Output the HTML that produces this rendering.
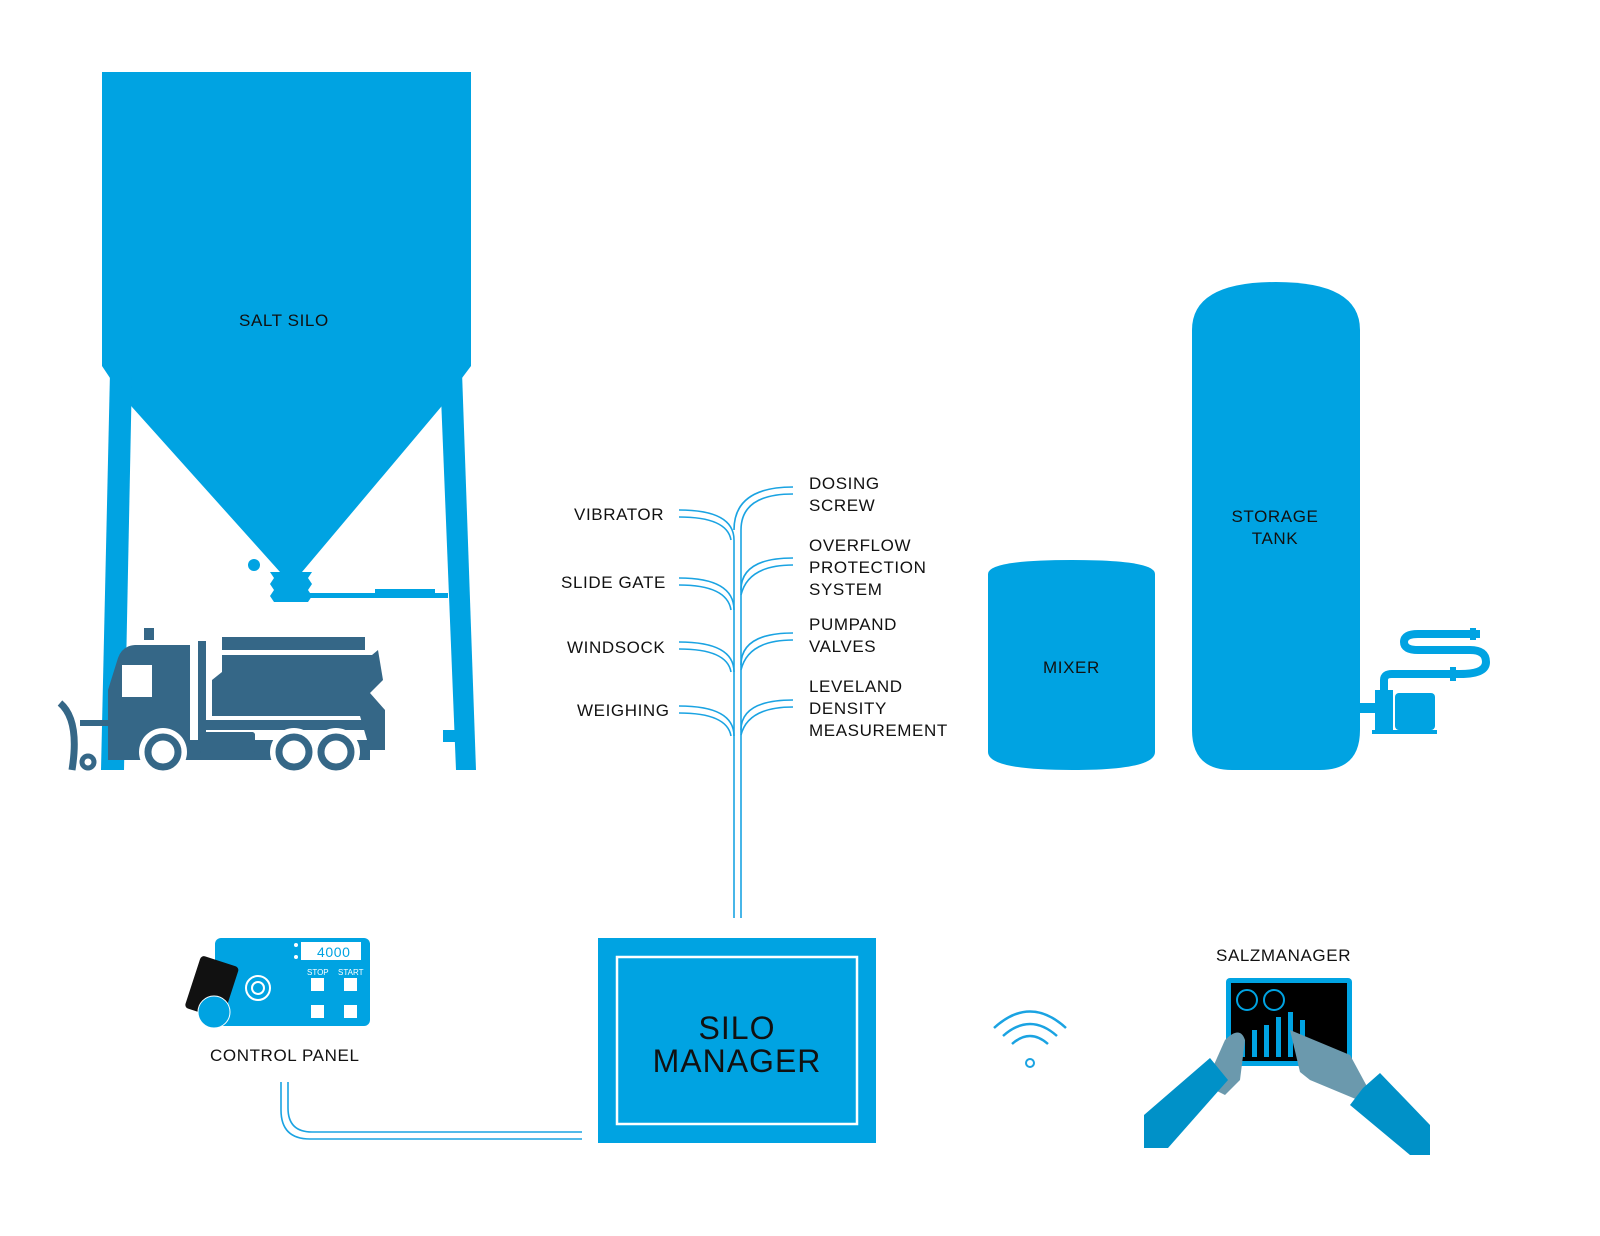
<!DOCTYPE html>
<html><head><meta charset="utf-8"><style>
html,body{margin:0;padding:0;background:#fff;}
svg{display:block}
text{font-family:"Liberation Sans",sans-serif;fill:#111;letter-spacing:0.6px}
</style></head><body>
<svg width="1600" height="1236" viewBox="0 0 1600 1236" xmlns="http://www.w3.org/2000/svg">
<g fill="#00a3e2">
<polygon points="102,72 471,72 471,366 462,378 441,407 302,572 280,572 132,407 110,378 102,366"/>
<polygon points="110,372 132,372 124,770 101,770"/>
<polygon points="440,372 462,372 476,770 456,770"/>
<rect x="443" y="730" width="12" height="12"/>
<path d="M272,572 h40 l-4,6 4,6 -4,6 4,6 -4,6 h-34 l-4,-6 4,-6 -4,-6 4,-6 -4,-6z"/>
<rect x="310" y="593" width="138" height="5"/>
<rect x="375" y="589" width="60" height="5"/>
<circle cx="254" cy="565" r="6"/>
<path d="M988,574 Q988,560 1072,560 Q1155,560 1155,574 V752 Q1155,770 1072,770 Q988,770 988,752Z"/>
<path d="M1192,330 Q1192,282 1276,282 Q1360,282 1360,330 V730 Q1360,770 1320,770 H1232 Q1192,770 1192,730Z"/>
<rect x="1360" y="703" width="15" height="10"/>
<rect x="1375" y="690" width="18" height="40"/>
<rect x="1395" y="693" width="40" height="37" rx="4"/>
<rect x="1372" y="730" width="65" height="4"/>
<path d="M1384,690 V680 Q1384,674 1392,674 H1460 Q1486,674 1486,662 Q1486,650 1470,650 H1418 Q1404,650 1404,642 Q1404,634 1418,634 H1480" fill="none" stroke="#00a3e2" stroke-width="8"/>
<rect x="1470" y="628" width="6" height="12"/><rect x="1450" y="667" width="6" height="14"/>
<rect x="215" y="938" width="155" height="88" rx="6"/>
<rect x="598" y="938" width="278" height="205"/>
</g>
<!-- truck -->
<g fill="#356787">
<path d="M118,658 Q122,646 135,645 H190 V760 H108 V690 Z"/>
<rect x="198" y="641" width="8" height="117"/>
<rect x="222" y="637" width="143" height="13"/>
<polygon points="222,655 372,655 378,650 383,680 370,693 385,710 385,750 370,750 360,716 212,716 212,680 222,672"/>
<rect x="205" y="720" width="160" height="10"/>
<rect x="200" y="732" width="55" height="22" rx="3"/>
<rect x="144" y="628" width="10" height="12"/>
<rect x="190" y="740" width="180" height="20"/>
</g>
<g fill="#fff"><circle cx="163" cy="752" r="24"/><circle cx="294" cy="752" r="24"/><circle cx="336" cy="752" r="24"/></g>
<rect x="200" y="732" width="55" height="22" rx="3" fill="#356787"/>
<rect x="122" y="665" width="30" height="32" fill="#fff"/>
<g fill="none" stroke="#356787" stroke-width="7">
<circle cx="163" cy="752" r="15"/><circle cx="294" cy="752" r="15"/><circle cx="336" cy="752" r="15"/>
<path d="M60,703 Q80,720 72,770"/><circle cx="88" cy="762" r="6" stroke-width="5"/>
</g>
<rect x="80" y="720" width="28" height="6" fill="#356787"/>
<g font-size="17">
<text x="239" y="326">SALT SILO</text>
<text x="574" y="520">VIBRATOR</text>
<text x="561" y="588">SLIDE GATE</text>
<text x="567" y="653">WINDSOCK</text>
<text x="577" y="716">WEIGHING</text>
<text x="809" y="489">DOSING</text><text x="809" y="511">SCREW</text>
<text x="809" y="551">OVERFLOW</text><text x="809" y="573">PROTECTION</text><text x="809" y="595">SYSTEM</text>
<text x="809" y="630">PUMPAND</text><text x="809" y="652">VALVES</text>
<text x="809" y="692">LEVELAND</text><text x="809" y="714">DENSITY</text><text x="809" y="736">MEASUREMENT</text>
<text x="1043" y="673">MIXER</text>
<text x="1275" y="522" text-anchor="middle">STORAGE</text><text x="1275" y="544" text-anchor="middle">TANK</text>
<text x="1216" y="961">SALZMANAGER</text>
<text x="210" y="1061">CONTROL PANEL</text>
</g>
<g fill="none" stroke="#1aa3e2" stroke-width="1.6">
<path d="M734,918 V540"/><path d="M741,918 V530"/>
<path d="M679,510 Q734,510 734,540"/><path d="M679,517 Q727,517 731,540"/>
<path d="M679,578 Q734,578 734,610"/><path d="M679,585 Q727,585 731,610"/>
<path d="M679,642 Q734,642 734,672"/><path d="M679,649 Q727,649 731,672"/>
<path d="M679,706 Q734,706 734,736"/><path d="M679,713 Q727,713 731,736"/>
<path d="M793,487 Q734,487 734,530"/><path d="M793,494 Q741,494 741,530"/>
<path d="M793,558 Q741,558 741,590"/><path d="M793,565 Q748,565 741,595"/>
<path d="M793,633 Q741,633 741,665"/><path d="M793,640 Q748,640 741,670"/>
<path d="M793,700 Q741,700 741,730"/><path d="M793,707 Q748,707 741,735"/>
<path d="M281,1082 V1110 Q281,1139 310,1139 H582"/><path d="M288,1082 V1108 Q288,1132 312,1132 H582"/>
</g>
<rect x="617" y="957" width="240" height="167" fill="none" stroke="#fff" stroke-width="2.5"/>
<text x="737" y="1039" font-size="32" text-anchor="middle" style="letter-spacing:1px">SILO</text>
<text x="737" y="1072" font-size="32" text-anchor="middle" style="letter-spacing:1px">MANAGER</text>
<rect x="301" y="942" width="60" height="18" fill="#fff"/>
<text x="317" y="957" font-size="14" style="fill:#00a3e2">4000</text>
<circle cx="296" cy="945" r="2" fill="#fff"/><circle cx="296" cy="957" r="2" fill="#fff"/>
<g font-size="8"><text x="307" y="975" style="fill:#fff;letter-spacing:0">STOP</text><text x="338" y="975" style="fill:#fff;letter-spacing:0">START</text></g>
<g fill="#fff"><rect x="311" y="978" width="13" height="13"/><rect x="344" y="978" width="13" height="13"/><rect x="311" y="1005" width="13" height="13"/><rect x="344" y="1005" width="13" height="13"/></g>
<circle cx="258" cy="988" r="12" fill="none" stroke="#fff" stroke-width="2"/><circle cx="258" cy="988" r="6" fill="none" stroke="#fff" stroke-width="2"/>
<rect x="192" y="960" width="40" height="55" rx="4" fill="#111" transform="rotate(18 212 987)"/>
<circle cx="214" cy="1012" r="16" fill="#00a3e2" stroke="#fff" stroke-width="1"/>
<g fill="none" stroke="#1aa3e2" stroke-width="2.5">
<path d="M994,1028 Q1030,995 1066,1028"/><path d="M1003,1036 Q1030,1012 1057,1036"/><path d="M1012,1044 Q1030,1028 1048,1044"/>
</g>
<circle cx="1030" cy="1063" r="4" fill="none" stroke="#1aa3e2" stroke-width="2"/>
<rect x="1226" y="978" width="126" height="88" rx="4" fill="#00a3e2"/>
<rect x="1231" y="983" width="116" height="78" fill="#000"/>
<g fill="#00a3e2"><rect x="1240" y="1040" width="5" height="17"/><rect x="1252" y="1030" width="5" height="27"/><rect x="1264" y="1025" width="5" height="32"/><rect x="1276" y="1017" width="5" height="40"/><rect x="1288" y="1012" width="5" height="45"/><rect x="1300" y="1020" width="5" height="37"/></g>
<circle cx="1247" cy="1000" r="10" fill="none" stroke="#00a3e2" stroke-width="2"/><circle cx="1274" cy="1000" r="10" fill="none" stroke="#00a3e2" stroke-width="2"/>
<g fill="#6b99ad"><path d="M1205,1085 L1225,1040 Q1240,1025 1245,1040 L1240,1080 L1225,1095Z"/><path d="M1290,1030 L1350,1055 L1370,1092 L1358,1100 L1310,1080 L1300,1072 Z"/></g>
<polygon points="1144,1115 1210,1058 1228,1080 1168,1148 1144,1148" fill="#0091c8"/>
<polygon points="1363,1088 1380,1073 1430,1125 1430,1155 1410,1155 1350,1105" fill="#0091c8"/>
</svg>
</body></html>
